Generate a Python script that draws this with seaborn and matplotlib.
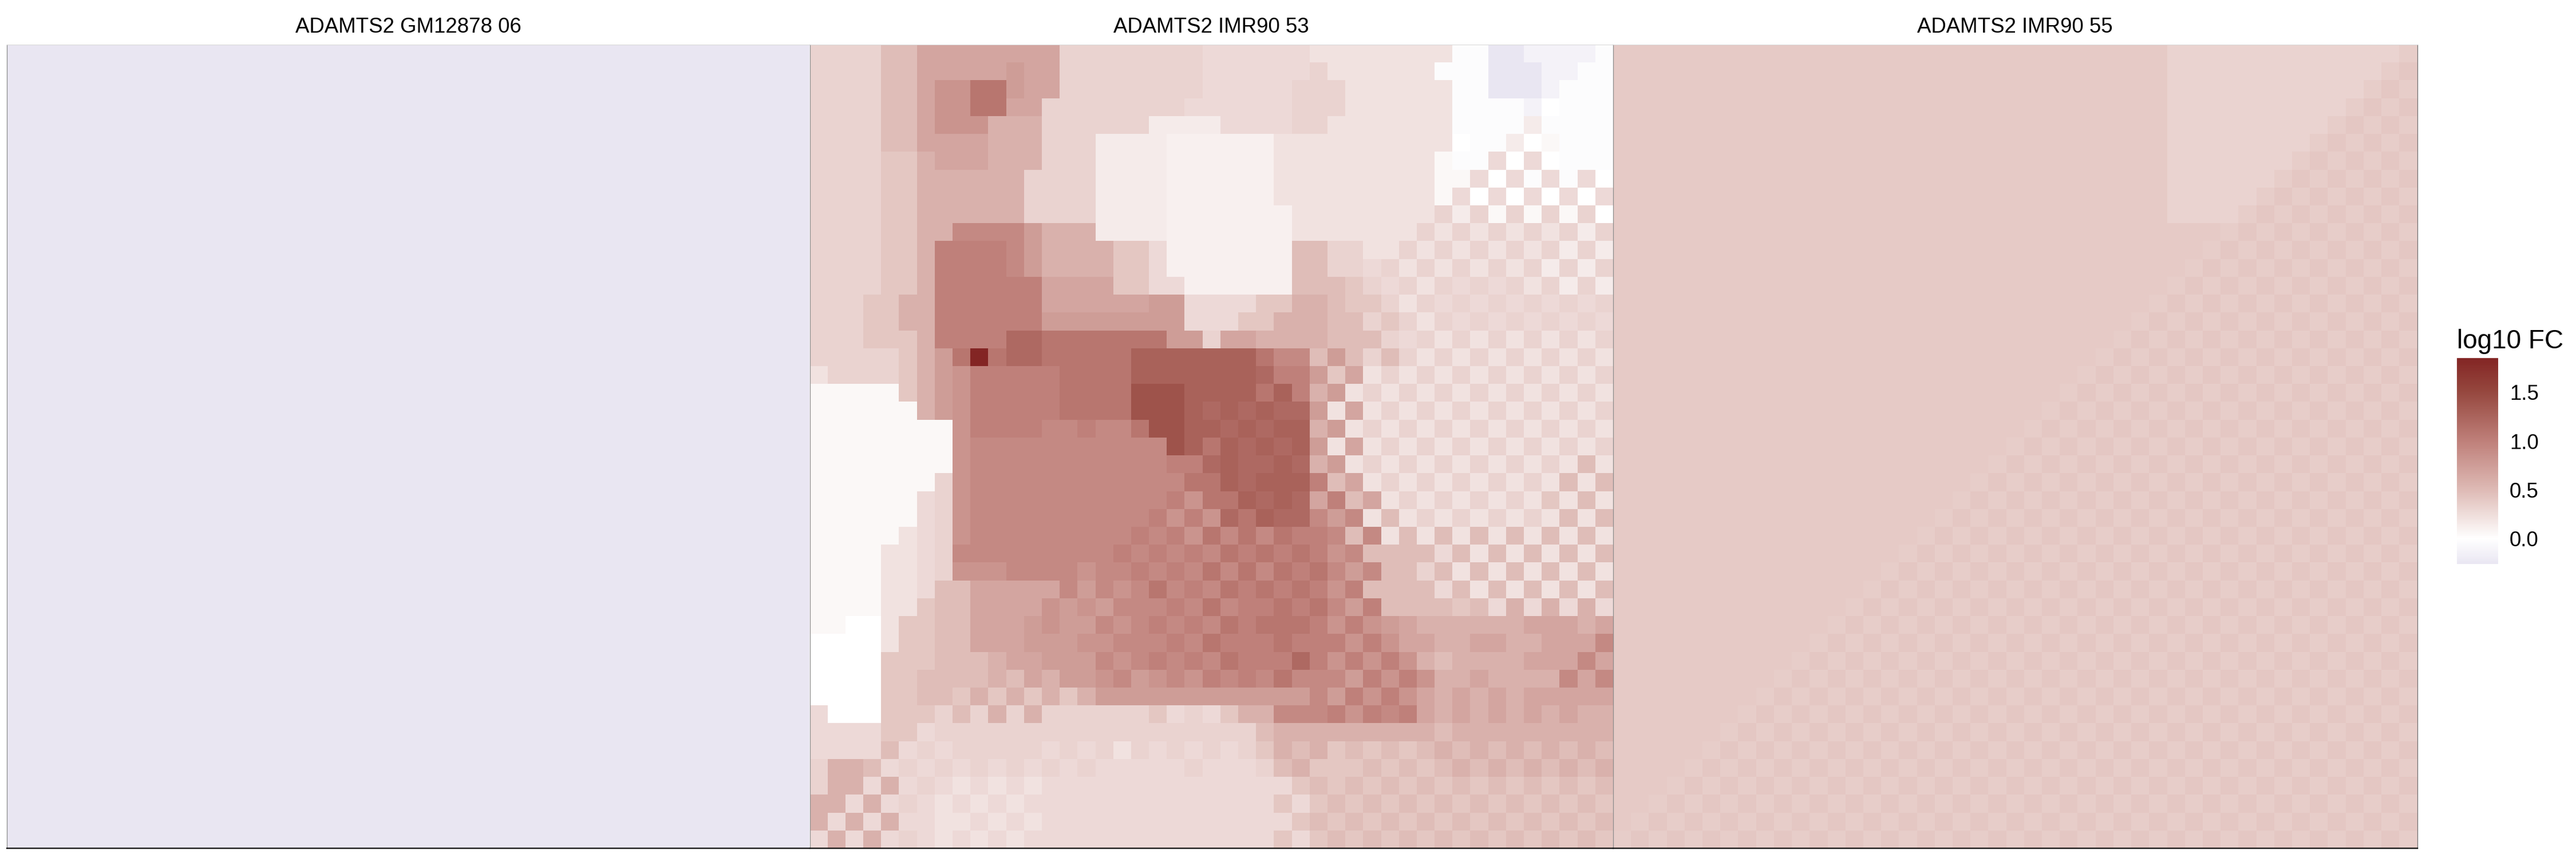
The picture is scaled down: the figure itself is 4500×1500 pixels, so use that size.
import numpy as np
import pandas as pd
import matplotlib
matplotlib.use("Agg")
import matplotlib.pyplot as plt
from matplotlib.colors import LinearSegmentedColormap
import seaborn as sns

sns.set_theme(style="white")
plt.rcParams["font.family"] = ["Liberation Sans", "DejaVu Sans"]

panel_titles = ["ADAMTS2 GM12878 06", "ADAMTS2 IMR90 53", "ADAMTS2 IMR90 55"]
legend_title = "log10 FC"
legend_ticks = [0.0, 0.5, 1.0, 1.5]

# log10 FC levels, one character per cell in the rows below
levels = {
    "z": -0.26, "y": -0.13, "x": -0.03, "w": 0.0, "0": 0.055, "i": 0.11, "1": 0.145,
    "2": 0.21, "3": 0.275, "4": 0.32, "j": 0.365, "l": 0.385, "5": 0.41, "k": 0.405,
    "6": 0.48, "7": 0.58, "8": 0.68, "9": 0.75, "a": 0.83, "b": 0.92, "c": 1.0,
    "d": 1.09, "e": 1.2, "f": 1.27, "g": 1.4, "h": 1.85,
}

gm12878_rows = ["z" * 45] * 45

imr90_53_rows = [
    "4444 66 888888 88 44444444 333333 22222222 xx zz yyyy x",
    "4444 66 88888 9 88 44444444 333333 4 222222 xxx zzz yy x x",
    "4444 66 8 aa dd 9 88 44444444 33333 444 222222 xx zzz y x x x",
    "4444 66 8 aa dd 88 44444444 333333 444 222222 xxxx y w x x x",
    "4444 66 8 aaa 777 444444 1111 3333 44 2222222 xxxx 1 x x x x",
    "4444 66 8888 7 77 444 1111 iiiiii 2222222222 w xx 1 w 0 x x x",
    "4444 55 7 888 7 77 444 1111 iiiiii 222222222 0 xx 3 w 3 w x x x",
    "4444 55 777777 4 444 1111 iiiiii 222222222 0 0 3 w 3 x 3 x 3 w",
    "4444 55 777777 4 444 1111 iiiiii 222222222 0 3 w 3 w 3 w 3 w 3",
    "4444 55 777777 44 44 1111 iiiiiii 22222222 4 1 4 0 4 0 4 0 4 w",
    "4444 55 77 bbbb 9 777 1111 iiiiiii 2222222 4 2 4 2 4 2 4 2 4 1 4",
    "4444 55 7 cccc b 9 7777 5 5 3 iiiiiii 66 44 22 4 2 4 2 4 2 4 2 4 1 4 1",
    "4444 55 7 cccc b 9 7777 5 5 3 iiiiiii 66 44 3 4 2 4 2 4 2 4 2 4 1 4 1 4",
    "4444 55 7 cccccc 8888 55 33 iiiiii 666 5 4 3 4 2 4 3 4 3 4 2 4 1 4 1",
    "444 55 77 cccccc 888888 99 3333 55 77 6 5 5 4 2 4 3 4 3 4 3 4 3 4 3 4",
    "444 55 77 cccccc 999999 99 333 55 777 6 6 4 5 4 2 4 3 4 3 4 3 4 3 4 3",
    "4 44 55 5 7 cccc ee d d dddd d 99 4 8 8 7 77 7 6 6 6 4 3 4 2 4 2 4 2 4 2 4 2 4",
    "4444 4 5 7 9 d h d ee ddddd fffffff d b b 6 9 6 4 6 4 2 4 2 4 2 4 2 4 2 4 2",
    "2 444 4 5 7 9 a ccccc dddd fffffff e c c 9 5 8 2 4 2 4 2 4 2 4 2 4 2 4 2 4",
    "00000 5 7 9 a ccccc dddd ggg ffff d f c 7 9 2 4 2 4 2 4 2 4 2 4 2 4 2 4 2",
    "000000 7 9 a ccccc dddd ggg f e f e f e e 9 2 8 2 4 2 4 2 4 2 4 2 4 2 4 2 4",
    "00000000 a cccc bb c bb d gg ff e f e f f 7 9 2 4 2 4 2 4 2 4 2 4 2 4 2 4 2",
    "00000000 a bbbbbbbbbbb g f d f e f e f 9 2 8 2 4 2 4 2 4 2 4 2 4 2 4 2 4",
    "00000000 a bbbbbbbbbbb cc e f e e f e 7 9 2 4 2 4 2 4 2 4 2 4 2 4 2 6 2",
    "0000000 4 a bbbbbbbbbbbb dd f e f f f c 6 8 2 4 2 4 2 4 2 4 2 4 2 6 2 6",
    "000000 3 4 a bbbbbbbbbbb c a d d f e f e 8 c 6 8 2 4 2 4 2 4 2 4 2 5 2 6 2",
    "000000 3 4 a bbbbbbbbbb c a c a e d f e e b 9 b 2 6 2 4 2 4 2 4 2 4 2 6 2 6",
    "00000 2 3 4 a bbbbbbbb b c b c a d b d b d c c b 6 b 2 6 2 6 2 6 2 6 2 6 2 6 2",
    "0000 22 3 4 bbbbbbbb b c b c b c b d c d c d c a b 6666 3 6 2 6 2 6 2 6 2 6",
    "0000 22 3 4 aaa bbbb a b b c b c b d b d b d c d b 9 b 66 4 6 2 6 2 6 2 6 2 6 2",
    "0000 22 3 66 88888 b 9 b a b d b c b d c d c d c a c 6666 3 6 2 6 2 6 2 6 2 6",
    "0000 22 5 66 8888 a 9 a 9 b b b c b d b c c d c d b 9 c 666 6 5 6 3 7 3 7 3 7 3",
    "00 ww 2 55 66 888 9 a 9 9 b a b c b c b d c d d d c a c a 9 8 7 7 7 7 7 7 8 8 8 7 8",
    "wwww 2 55 66 888 9 9 9 a a bbb c b d c c c d c c c a c a 8 8 7 7 8 8 7 7 8 8 8 b",
    "wwww 555 666 7 8 8 9 9 9 b a b c b c b d c c c e c a c a c a 7 6 7 7 7 7 8 8 8 b 8",
    "wwww 55 666 6 7 6 8 7 9 9 a b 9 a b a c b c b d bbb 9 c a c a 7 7 8 7 7 7 7 b 8 b",
    "wwww 5 5 66 5 7 5 7 5 7 5 7 999999999999 b 9 c a c a 8 7 8 7 8 7 8 8 8 8 8",
    "3 www 555 4 6 4 7 4 7 4 4 4 4 4 4 5 3 4 3 5 7 7 bbb c a c b c 8 7 8 7 8 7 8 7 8 7 7",
    "3333 55 3 444444444444444444 6 77 7777777 6 777777777",
    "3333 6 3 4 3 4 4 4 4 4 3 4 3 4 2 4 3 4 3 4 3 4 5 7 6 7 5 6 5 6 5 6 7 6 7 6 7 6 7 6 7 6",
    "4 77 6 3 4 3 4 3 4 3 4 3 4 3 4 3 3 3 3 3 4 3 3 3 4 6 7 5 5 5 6 5 6 5 6 7 6 7 6 7 6 7 6 7",
    "4 77 3 7 3 4 3 2 3 2 3 2 33333333333333 565656565656565656",
    "77 3 7 3 4 3 2 3 2 3 2 33333333333333 5 3 56565656565656565",
    "7 3 7 3 7 3 3 2 2 3 2 3 2 33333333333333 565656565656565656",
    "3 7 3 7 3 4 3 2 3 2 3 2 33333333333333 5 3 56565656565656565",
]

imr90_55_rows = [
    "l" * 31 + "4" * 13 + "j",
    "l" * 31 + "4" * 12 + "jk",
    "l" * 31 + "4" * 11 + "jkj",
    "l" * 31 + "4" * 10 + "jkjk",
    "l" * 31 + "4" * 9 + "jkjkj",
    "l" * 31 + "4" * 8 + "jkjkjk",
    "l" * 31 + "4" * 7 + "jkjkjkj",
    "l" * 31 + "4" * 6 + "jkjkjkjk",
    "l" * 31 + "4" * 5 + "jkjkjkjkj",
    "l" * 31 + "4" * 4 + "jkjkjkjkjk",
    "l" * 34 + "jk" * 5 + "j",
    "l" * 33 + "jk" * 6,
    "l" * 32 + "jk" * 6 + "j",
    "l" * 31 + "jk" * 7,
    "l" * 30 + "jk" * 7 + "j",
    "l" * 29 + "jk" * 8,
    "l" * 28 + "jk" * 8 + "j",
    "l" * 27 + "jk" * 9,
    "l" * 26 + "jk" * 9 + "j",
    "l" * 25 + "jk" * 10,
    "l" * 24 + "jk" * 10 + "j",
    "l" * 23 + "jk" * 11,
    "l" * 22 + "jk" * 11 + "j",
    "l" * 21 + "jk" * 12,
    "l" * 20 + "jk" * 12 + "j",
    "l" * 19 + "jk" * 13,
    "l" * 18 + "jk" * 13 + "j",
    "l" * 17 + "jk" * 14,
    "l" * 16 + "jk" * 14 + "j",
    "l" * 15 + "jk" * 15,
    "l" * 14 + "jk" * 15 + "j",
    "l" * 13 + "jk" * 16,
    "l" * 12 + "jk" * 16 + "j",
    "l" * 11 + "jk" * 17,
    "l" * 10 + "jk" * 17 + "j",
    "l" * 9 + "jk" * 18,
    "l" * 8 + "jk" * 18 + "j",
    "l" * 7 + "jk" * 19,
    "l" * 6 + "jk" * 19 + "j",
    "l" * 5 + "jk" * 20,
    "l" * 4 + "jk" * 20 + "j",
    "l" * 3 + "jk" * 21,
    "l" * 2 + "jk" * 21 + "j",
    "l" * 1 + "jk" * 22,
    "jk" * 22 + "j",
]


def to_frame(rows):
    cells = [[levels[c] for c in row.replace(" ", "")] for row in rows]
    return pd.DataFrame(np.array(cells, dtype=float))


vmin, vmax = -0.26, 1.85
stops = [(-0.26, "#E9E6F2"), (0.0, "#FFFFFF"), (0.5, "#DEBAB5"),
         (1.0, "#BF807A"), (1.5, "#96483F"), (1.85, "#832524")]
cmap = LinearSegmentedColormap.from_list(
    "log10fc", [((v - vmin) / (vmax - vmin), c) for v, c in stops], N=512)

W, H = 4500.0, 1500.0
fig = plt.figure(figsize=(15, 5), dpi=300)

lefts = [11.5, 1414.5, 2818.0]
right_edge = 4222.5
top, bottom = 78.0, 1483.0
panel_rows = [gm12878_rows, imr90_53_rows, imr90_55_rows]

cax = fig.add_axes([4292 / W, 1 - 986 / H, 72 / W, 360 / H])

for i, rows in enumerate(panel_rows):
    x1 = lefts[i + 1] if i < 2 else right_edge
    ax = fig.add_axes([lefts[i] / W, 1 - bottom / H, (x1 - lefts[i]) / W, (bottom - top) / H])
    sns.heatmap(to_frame(rows), ax=ax, cmap=cmap, vmin=vmin, vmax=vmax,
                xticklabels=False, yticklabels=False, square=False,
                cbar=i == 2, cbar_ax=cax if i == 2 else None)
    ax.set_title(panel_titles[i], fontsize=8.8, color="black", pad=5)
    for side, col, lw in [("bottom", "black", 0.55), ("left", "#8c8c8c", 0.3),
                          ("top", "#d8d8d8", 0.25)]:
        ax.spines[side].set_visible(True)
        ax.spines[side].set_color(col)
        ax.spines[side].set_linewidth(lw)
    if i == 2:
        ax.spines["right"].set_visible(True)
        ax.spines["right"].set_color("#6e6e6e")
        ax.spines["right"].set_linewidth(0.3)

cax.set_yticks(legend_ticks)
cax.set_yticklabels([f"{t:.1f}" for t in legend_ticks])
cax.tick_params(axis="y", left=True, right=True, direction="in", color="white",
                length=3.4, width=0.35, pad=4.8, labelsize=8.8, labelcolor="black")
cax.set_title(legend_title, fontsize=11, loc="left", pad=4, color="black")

fig.savefig("out.png", dpi=300)
